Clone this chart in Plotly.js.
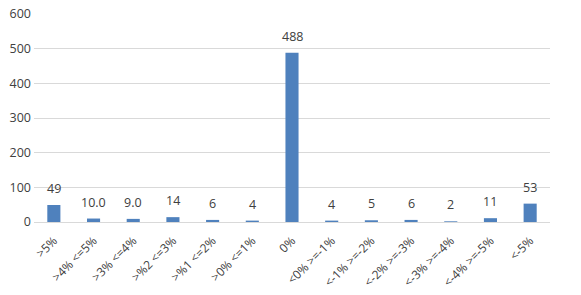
<!DOCTYPE html>
<html>
<head>
<meta charset="utf-8">
<script src="https://cdn.plot.ly/plotly-3.0.1.min.js"></script>
<style>html,body{margin:0;padding:0;background:#fff;}#chart{width:581px;height:295px;}</style>
</head>
<body>
<div id="chart"></div>
<script>
const categories = [">5%", ">4% <=5%", ">3% <=4%", ">%2 <=3%", ">%1 <=2%", ">0% <=1%", "0%", "<0% >=-1%", "<-1% >=-2%", "<-2% >=-3%", "<-3% >=-4%", "<-4% >=-5%", "<-5%"];
const values = [49, 10, 9, 14, 6, 4, 488, 4, 5, 6, 2, 11, 53];
const valueLabels = ["49", "10.0", "9.0", "14", "6", "4", "488", "4", "5", "6", "2", "11", "53"];
const yTicks = [0, 100, 200, 300, 400, 500, 600];

const trace = {
  type: 'bar',
  x: categories,
  y: values,
  marker: {color: '#4f81bd'},
  hoverinfo: 'none'
};

const annotations = categories.map((c, i) => ({
  x: c, y: values[i], xref: 'x', yref: 'y',
  text: valueLabels[i], showarrow: false,
  yanchor: 'bottom', yshift: 6,
  font: {family: 'Open Sans, Liberation Sans, sans-serif', size: 12.5, color: '#404040'}
}));

const layout = {
  width: 581, height: 295,
  margin: {l: 34, r: 31, t: 14, b: 73},
  paper_bgcolor: '#fff', plot_bgcolor: '#fff',
  bargap: 0.67,
  showlegend: false,
  annotations: annotations,
  font: {family: 'Open Sans, Liberation Sans, sans-serif', color: '#404040'},
  xaxis: {
    type: 'category',
    tickangle: -45,
    tickfont: {size: 12, color: '#404040'},
    ticklabelstandoff: 6,
    showgrid: false,
    showline: true, linecolor: '#d9d9d9', linewidth: 1,
    ticks: '', automargin: false
  },
  yaxis: {
    range: [0, 600],
    tickvals: yTicks,
    tickfont: {size: 12.5, color: '#404040'},
    ticklabelstandoff: 2,
    showgrid: true, gridcolor: '#d9d9d9', gridwidth: 1,
    zeroline: false, showline: false, ticks: '',
    automargin: false
  }
};

Plotly.newPlot('chart', [trace], layout, {displayModeBar: false, staticPlot: true});
</script>
</body>
</html>
